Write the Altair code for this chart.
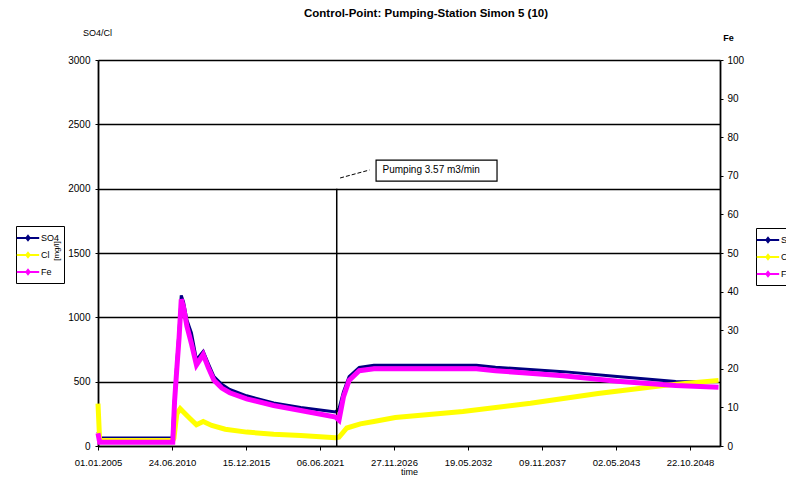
import altair as alt
import pandas as pd

chart_title = "Control-Point: Pumping-Station Simon 5 (10)"
series_names = ["SO4", "Cl", "Fe"]
series_colors = ["#000080", "#FFFF00", "#FF00FF"]

so4_dates = ["2005-01-01", "2005-02-15", "2010-07-01", "2010-09-01", "2010-11-01", "2011-01-01",
             "2011-03-01", "2011-05-01", "2011-08-01", "2011-12-01", "2012-04-15", "2012-10-15",
             "2013-03-01", "2013-08-01", "2014-03-01", "2014-10-01", "2016-01-01", "2018-01-01",
             "2020-01-01", "2022-08-01", "2022-11-01", "2023-03-01", "2023-08-01", "2024-05-01",
             "2025-06-01", "2033-01-01", "2034-06-01", "2036-06-01", "2039-06-01", "2043-06-01",
             "2047-10-01", "2049-06-01"]
so4_values = [110, 62, 62, 380, 650, 900,
              1170, 1120, 980, 880, 670, 735,
              640, 540, 480, 440, 390, 335,
              300, 265, 290, 420, 540, 610,
              628, 628, 612, 598, 578, 540,
              502, 500]

cl_dates = ["2005-01-01", "2005-02-15", "2010-07-15", "2010-08-15", "2010-11-01", "2011-02-01",
            "2011-06-01", "2011-10-01", "2012-04-15", "2012-10-15", "2013-06-01", "2014-06-01",
            "2016-01-01", "2018-01-01", "2020-01-01", "2022-08-01", "2022-11-01", "2023-06-01",
            "2024-06-01", "2025-06-01", "2027-01-01", "2032-01-01", "2037-01-01", "2042-01-01",
            "2047-01-01", "2050-12-01"]
cl_values = [330, 42, 42, 60, 250, 290,
             255, 220, 165, 190, 160, 130,
             108, 92, 82, 65, 68, 140,
             172, 190, 222, 268, 332, 408,
             472, 510]

fe_dates = ["2005-01-01", "2005-02-15", "2010-07-15", "2010-09-01", "2010-11-01", "2011-01-01",
            "2011-03-01", "2011-05-01", "2011-08-01", "2011-12-01", "2012-04-15", "2012-10-15",
            "2013-03-01", "2013-08-01", "2014-03-01", "2014-10-01", "2016-01-01", "2018-01-01",
            "2020-01-01", "2022-08-01", "2022-11-01", "2023-03-01", "2023-08-01", "2024-05-01",
            "2025-06-01", "2033-01-01", "2034-06-01", "2036-06-01", "2039-06-01", "2043-06-01",
            "2047-10-01", "2050-12-01"]
fe_values = [3.3, 1.0, 1.0, 11.5, 20, 28,
             38, 36, 31, 26.5, 21, 23.7,
             20.3, 17, 15, 13.8, 12.2, 10.5,
             9.2, 7.5, 6.7, 12.7, 17, 19.5,
             20, 20, 19.5, 19, 18.2, 16.8,
             15.7, 15.2]

x_tick_dates = ["2005-01-01", "2010-06-24", "2015-12-15", "2021-06-06", "2026-11-27",
                "2032-05-19", "2037-11-09", "2043-05-02", "2048-10-22"]
x_domain_dates = ["2005-01-01", "2051-01-10"]
left_ticks = [0, 500, 1000, 1500, 2000, 2500, 3000]
right_ticks = [0, 10, 20, 30, 40, 50, 60, 70, 80, 90, 100]

pump_dates = ["2022-09-01"]
pump_tops = [2000]
note_text = ["Pumping 3.57 m3/min"]
note_text_date = ["2026-01-20"]
note_text_value = [2145]
note_box_dates = ["2025-07-30", "2034-07-12"]
note_box_values = [2059, 2222]
leader_dates = ["2022-12-01", "2025-02-01"]
leader_values = [2083, 2145]
left_unit_label = ["[mg/l]"]


def dt(s):
    y, m, d = (int(p) for p in s.split("-"))
    return alt.DateTime(year=y, month=m, date=d, utc=True)


W, H = 622, 386
FONT = "Liberation Sans"

x_scale = alt.Scale(type="utc", domain=[dt(s) for s in x_domain_dates])
x_axis = alt.Axis(values=[dt(s) for s in x_tick_dates],
                  labelExpr="utcFormat(datum.value, '%d.%m.%Y')",
                  title="time", grid=False, domainColor="black", domainWidth=1.5,
                  tickColor="black", tickSize=4, labelFontSize=9.5, labelPadding=7,
                  labelColor="black", titleFontSize=9, titleFontWeight="normal",
                  titlePadding=1, titleColor="black", labelFont=FONT, titleFont=FONT,
                  labelOverlap=False, labelFlush=False)

left_scale = alt.Scale(domain=[0, 3000], nice=False)
left_axis = alt.Axis(values=left_ticks, format="d", grid=True, gridColor="black", gridWidth=1.3,
                     gridOpacity=1, domainColor="black", domainWidth=1.8, tickColor="black",
                     tickSize=3, labelFontSize=10, labelPadding=5, labelColor="black",
                     title="SO4/Cl", titleAngle=0, titleX=-1, titleY=-28, titleAlign="center",
                     titleBaseline="middle", titleFontSize=9, titleFontWeight="normal",
                     titleColor="black", labelFont=FONT, titleFont=FONT)

right_scale = alt.Scale(domain=[0, 100], nice=False)
right_axis = alt.Axis(orient="right", values=right_ticks, format="d", grid=False,
                      domainColor="black", domainWidth=1.8, tickColor="black", tickSize=3,
                      labelFontSize=10, labelPadding=4, labelColor="black", title="Fe",
                      titleAngle=0, titleX=8, titleY=-23, titleAlign="center",
                      titleBaseline="middle", titleFontSize=9, titleFontWeight="bold",
                      titleColor="black", labelFont=FONT, titleFont=FONT)

legend_symbol = "M-1.6,0H1.6M0,-0.3L0.24,0L0,0.3L-0.24,0Z"


def make_legend(lx, ly):
    return alt.Legend(orient="none", legendX=lx, legendY=ly, title=None,
                      symbolType=legend_symbol, symbolSize=196, symbolStrokeWidth=2,
                      labelFontSize=9, labelOffset=5, labelFont=FONT, labelColor="black",
                      padding=4, rowPadding=2, strokeColor="black")


color_left = alt.Color("series:N", scale=alt.Scale(domain=series_names, range=series_colors),
                       legend=make_legend(-82, 166))
color_right = alt.Color("series:N", scale=alt.Scale(domain=series_names, range=series_colors),
                        legend=make_legend(658, 168))

so4_df = pd.DataFrame({"date": so4_dates, "value": so4_values, "series": "SO4"})
cl_df = pd.DataFrame({"date": cl_dates, "value": cl_values, "series": "Cl"})
fe_df = pd.DataFrame({"date": fe_dates, "value": fe_values, "series": "Fe"})


def X():
    return alt.X("date:T", scale=x_scale, axis=x_axis)


def YL():
    return alt.Y("value:Q", scale=left_scale, axis=left_axis)


so4_line = alt.Chart(so4_df).mark_line(strokeWidth=3).encode(x=X(), y=YL(), color=color_left)
cl_line = alt.Chart(cl_df).mark_line(strokeWidth=5).encode(x=X(), y=YL(), color=color_left)

pump_df = pd.DataFrame({"date": pump_dates, "value": [0], "value2": pump_tops})
pump_rule = alt.Chart(pump_df).mark_rule(color="black", strokeWidth=1.5).encode(
    x=X(), y=YL(), y2="value2:Q")

leader_df = pd.DataFrame({"date": leader_dates[:1], "date2": leader_dates[1:],
                          "value": leader_values[:1], "value2": leader_values[1:]})
leader = alt.Chart(leader_df).mark_rule(color="black", strokeWidth=1, strokeDash=[4, 2]).encode(
    x=X(), x2="date2:T", y=YL(), y2="value2:Q")

box_df = pd.DataFrame({"date": note_box_dates[:1], "date2": note_box_dates[1:],
                       "value": note_box_values[:1], "value2": note_box_values[1:]})
box = alt.Chart(box_df).mark_rect(fill="white", stroke="black", strokeWidth=1.2).encode(
    x=X(), x2="date2:T", y=YL(), y2="value2:Q")

note_df = pd.DataFrame({"date": note_text_date, "value": note_text_value, "t": note_text})
note = alt.Chart(note_df).mark_text(align="left", baseline="middle", fontSize=10, font=FONT,
                                    color="black").encode(x=X(), y=YL(), text="t:N")

title_df = pd.DataFrame({"t": [chart_title]})
title_mark = alt.Chart(title_df).mark_text(align="center", baseline="middle", fontSize=11.5,
                                           fontWeight="bold", font=FONT, color="black").encode(
    text="t:N", x=alt.value(328), y=alt.value(-46))

unit_df = pd.DataFrame({"t": left_unit_label})
unit_mark = alt.Chart(unit_df).mark_text(align="center", baseline="middle", fontSize=8, angle=270,
                                         font=FONT, color="black").encode(
    text="t:N", x=alt.value(-41), y=alt.value(191))

left = alt.layer(so4_line, cl_line, pump_rule, leader, box, note, title_mark, unit_mark)

fe_line = alt.Chart(fe_df).mark_line(strokeWidth=5).encode(
    x=X(), y=alt.Y("value:Q", scale=right_scale, axis=right_axis), color=color_right)

chart = alt.layer(left, fe_line).resolve_scale(y="independent", color="independent").properties(
    width=W, height=H,
    padding={"left": 90, "top": 52, "right": 66, "bottom": 32},
    autosize=alt.AutoSizeParams(type="none"),
).configure_view(strokeWidth=0).configure(font=FONT)

chart.save("out.html", embed_options={"renderer": "svg", "actions": False})
